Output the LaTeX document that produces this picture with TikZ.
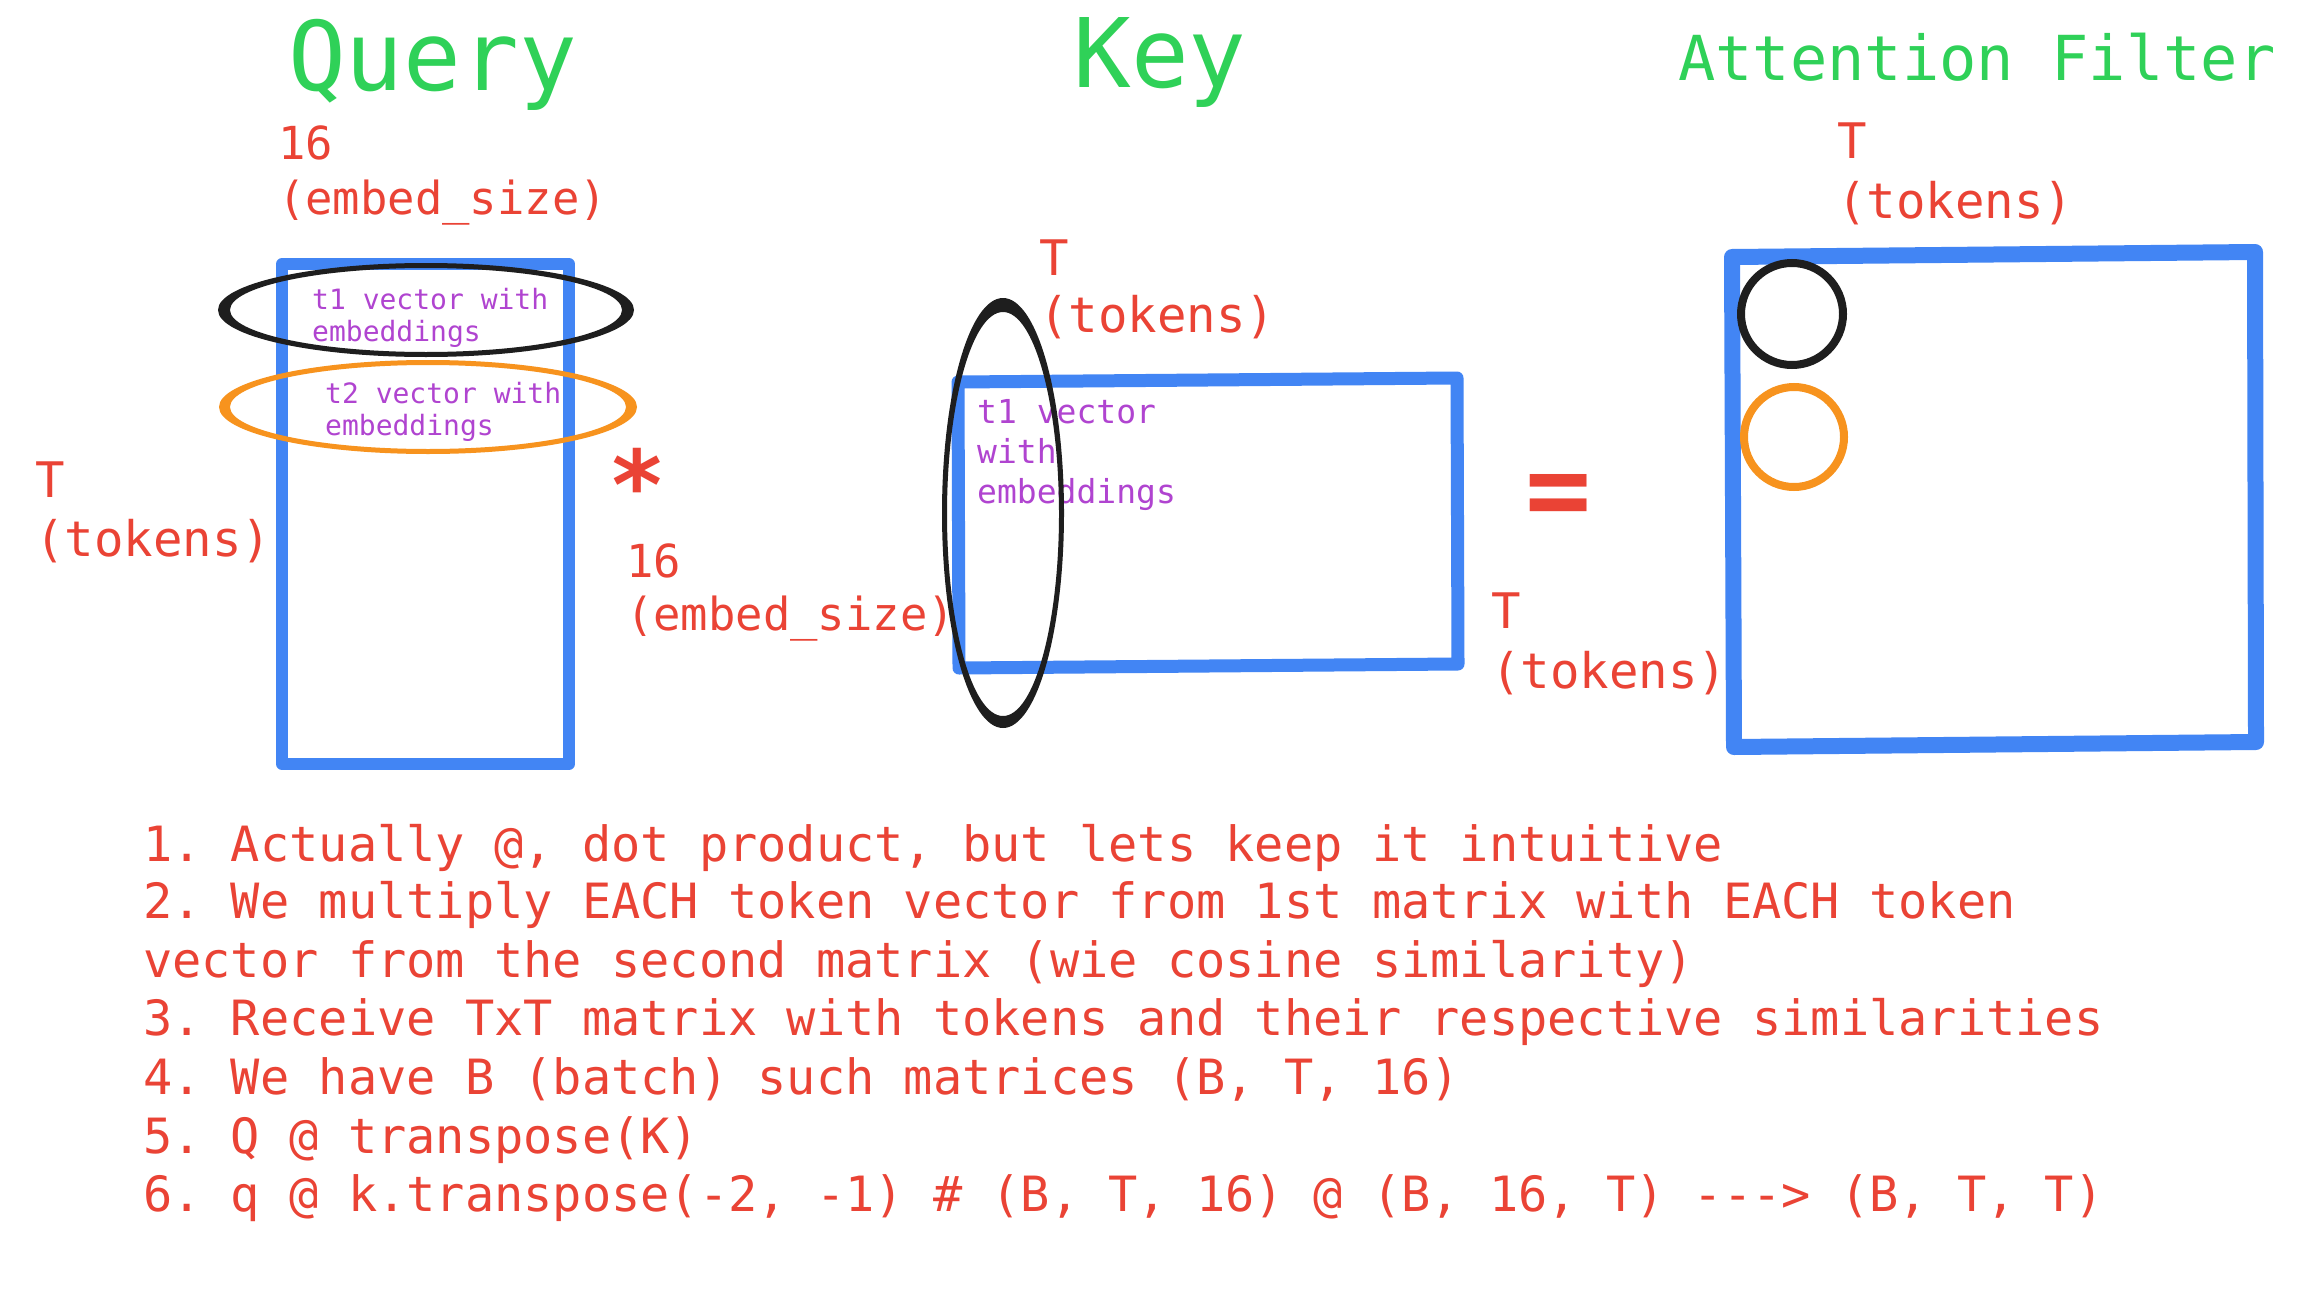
\documentclass[tikz,border=0pt]{standalone}
\usepackage{fontspec}
\setmonofont{DejaVu Sans Mono}
\definecolor{myred}{HTML}{EA4335}
\definecolor{mygreen}{HTML}{2FD158}
\definecolor{myblue}{HTML}{4285F4}
\definecolor{myorange}{HTML}{F7931E}
\definecolor{mypurple}{HTML}{B044D0}
\definecolor{myblack}{HTML}{1E1E1E}
\begin{document}
\begin{tikzpicture}[x=1pt,y=-1pt,
  base/.style={inner sep=0pt, anchor=base west},
  title/.style={base, text=mygreen, font=\ttfamily\fontsize{96}{110}\selectfont},
  subtitle/.style={base, text=mygreen, font=\ttfamily\fontsize{62}{70}\selectfont},
  lbl/.style={base, text=myred, font=\ttfamily\fontsize{45.5}{55}\selectfont},
  tlbl/.style={base, text=myred, font=\ttfamily\fontsize{49}{58}\selectfont},
  note/.style={base, text=myred, font=\ttfamily\fontsize{48.6}{58}\selectfont},
  vecq/.style={base, text=mypurple, font=\ttfamily\fontsize{28}{32}\selectfont},
  veck/.style={base, text=mypurple, font=\ttfamily\fontsize{33}{40}\selectfont},
  matrix/.style={draw=myblue, line join=round, line cap=round},
]
\useasboundingbox[fill=white] (0,0) rectangle (2304,1295);

% titles
\node[title] (tq) at (288,91) {Query};
\node[title] (tk) at (1073,88) {Key};
\node[subtitle] (ta) at (1678,81) {Attention Filter};

% matrices
\draw[matrix, line width=12pt] (282,264) -- (569,264) -- (569,764) -- (282,764) -- cycle;
\draw[matrix, line width=13pt] (958,382) -- (1457,378) -- (1458,664) -- (959,668) -- cycle;
\draw[matrix, line width=16pt] (1732,257) -- (2255,252) -- (2256,742) -- (1734,747) -- cycle;

% query texts
\node[vecq] (q1a) at (312,309) {t1 vector with};
\node[vecq] (q1b) at (312,341) {embeddings};
\node[vecq] (q2a) at (325,403) {t2 vector with};
\node[vecq] (q2b) at (325,435) {embeddings};

% key texts
\node[veck] (k1a) at (977,423) {t1 vector};
\node[veck] (k1b) at (977,463) {with};
\node[veck] (k1c) at (977,503) {embeddings};

% marker ellipses (variable stroke) and circles
\fill[myblack, even odd rule] (426,310) ellipse [x radius=208pt, y radius=47pt]
                               (426,310) ellipse [x radius=196pt, y radius=42pt];
\fill[myorange, even odd rule] (428,407) ellipse [x radius=209pt, y radius=47pt]
                                (428,407) ellipse [x radius=198pt, y radius=42pt];
\fill[myblack, even odd rule] (1003,513) ellipse [x radius=61pt, y radius=215pt]
                               (1003,514) ellipse [x radius=56pt, y radius=202pt];
\draw[myblack, line width=8pt] (1792,314) circle [radius=51pt];
\draw[myorange, line width=8pt] (1794,437) circle [radius=50pt];

% dimension labels
\node[lbl] (qd1) at (278,160) {16};
\node[lbl] (qd2) at (278,214) {(embed\_size)};
\node[tlbl] (qt1) at (35,497) {T};
\node[tlbl] (qt2) at (35,556) {(tokens)};
\node[lbl] (kd1) at (626,577) {16};
\node[lbl] (kd2) at (626,630) {(embed\_size)};
\node[tlbl] (kt1) at (1039,275) {T};
\node[tlbl] (kt2) at (1039,332) {(tokens)};
\node[tlbl] (rt1) at (1491,628) {T};
\node[tlbl] (rt2) at (1491,688) {(tokens)};
\node[tlbl] (at1) at (1837,158) {T};
\node[tlbl] (at2) at (1837,218) {(tokens)};

% operators
\node[inner sep=0pt, text=myred, font=\ttfamily\bfseries\fontsize{96}{100}\selectfont] (star) at (637,484) {*};
\node[inner sep=0pt, text=myred, font=\ttfamily\bfseries\fontsize{110}{120}\selectfont] (eq) at (1559,501) {=};

% notes
\node[note] (n1) at (143,861) {1. Actually @, dot product, but lets keep it intuitive};
\node[note] (n2) at (143,918) {2. We multiply EACH token vector from 1st matrix with EACH token};
\node[note] (n3) at (143,977) {vector from the second matrix (wie cosine similarity)};
\node[note] (n4) at (143,1035) {3. Receive TxT matrix with tokens and their respective similarities};
\node[note] (n5) at (143,1094) {4. We have B (batch) such matrices (B, T, 16)};
\node[note] (n6) at (143,1153) {5. Q @ transpose(K)};
\node[note] (n7) at (143,1211) {6. q @ k.transpose(-2, -1) \# (B, T, 16) @ (B, 16, T) -{}-{}-> (B, T, T)};
\end{tikzpicture}
\end{document}
